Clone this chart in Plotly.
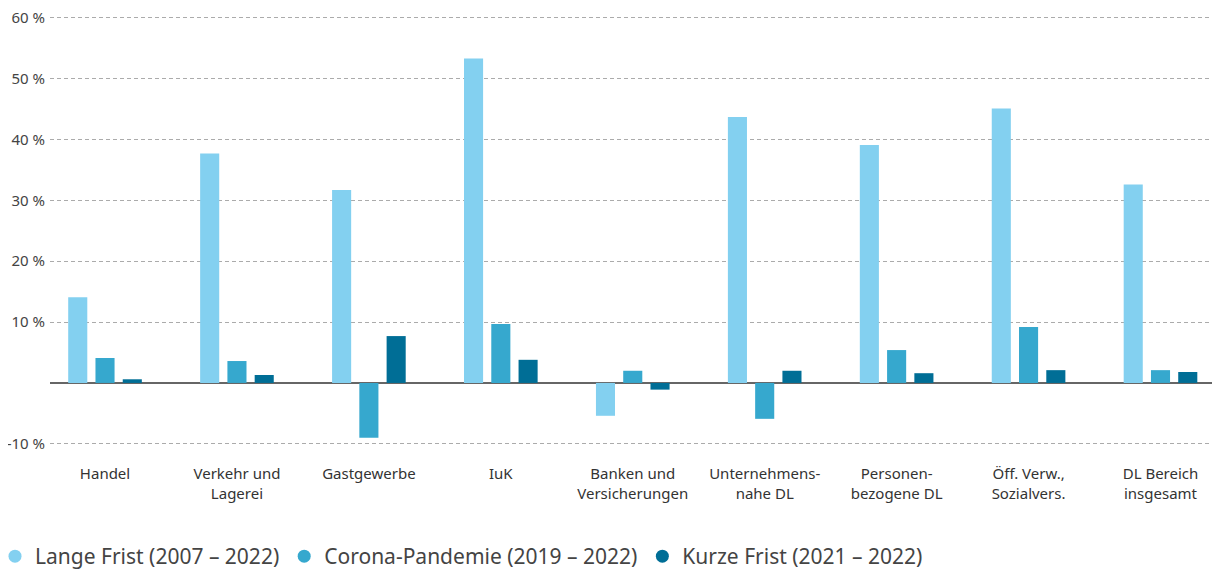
import plotly.graph_objects as go

categories = ["Handel", "Verkehr und<br>Lagerei", "Gastgewerbe", "IuK", "Banken und<br>Versicherungen",
              "Unternehmens-<br>nahe DL", "Personen-<br>bezogene DL", "Öff. Verw.,<br>Sozialvers.", "DL Bereich<br>insgesamt"]
lange_frist = [14.1, 37.7, 31.7, 53.3, -5.4, 43.7, 39.1, 45.1, 32.6]
corona = [4.1, 3.6, -9.0, 9.7, 2.0, -5.9, 5.4, 9.2, 2.1]
kurze_frist = [0.6, 1.3, 7.7, 3.8, -1.1, 2.0, 1.6, 2.1, 1.8]
series_names = ["Lange Frist (2007 – 2022)", "Corona-Pandemie (2019 – 2022)", "Kurze Frist (2021 – 2022)"]
colors = ["#83D0F0", "#36A8CE", "#006E96"]
y_tickvals = [-10, 10, 20, 30, 40, 50, 60]
y_ticktext = ["-10 %", "10 %", "20 %", "30 %", "40 %", "50 %", "60 %"]

font_family = "'Noto Sans', 'Open Sans', sans-serif"

fig = go.Figure()
for name, vals, col in zip(series_names, [lange_frist, corona, kurze_frist], colors):
    fig.add_trace(go.Bar(x=categories, y=vals, name=name, marker_color=col,
                         marker_line_width=0, showlegend=False))
for name, col in zip(series_names, colors):
    fig.add_trace(go.Scatter(x=[None], y=[None], mode="markers", name=name,
                             marker=dict(color=col, size=13, symbol="circle")))

# page body has an 8px margin; figure is sized/offset to fill the 1220x572 window
fig.update_layout(
    width=1212, height=564,
    margin=dict(l=42, r=0, t=8, b=127, autoexpand=False),
    paper_bgcolor="white", plot_bgcolor="white",
    barmode="group", bargap=0.38, bargroupgap=0.3,
    font=dict(family=font_family, color="#333"),
    legend=dict(orientation="h", x=-0.047, xanchor="left", y=-0.26, yanchor="middle",
                font=dict(size=21, color="#444"), itemwidth=30,
                tracegroupgap=0),
    xaxis=dict(range=[-0.417, 8.451], showgrid=False, showline=False, ticks="",
               automargin=False,
               tickfont=dict(size=15, color="#333"), ticklabelstandoff=18),
    yaxis=dict(range=[-10.2, 60.3], tickvals=y_tickvals, ticktext=y_ticktext,
               automargin=False, ticklabeloverflow="allow",
               showgrid=True, gridcolor="#ababab", griddash="4px,3px", gridwidth=1,
               zeroline=True, zerolinecolor="#666", zerolinewidth=2,
               showline=False, ticks="", ticklabelstandoff=4,
               tickfont=dict(size=15, color="#444")),
)

fig.write_html("out.html")
